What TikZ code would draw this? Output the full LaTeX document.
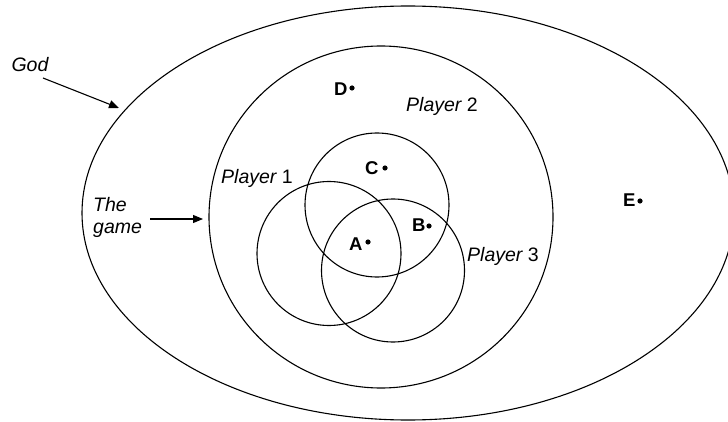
\documentclass[tikz,border=0pt]{standalone}
\usepackage{fontspec}
\setmainfont{Liberation Sans}
\usetikzlibrary{arrows.meta}
\begin{document}
\begin{tikzpicture}[x=1pt,y=1pt,
  ring/.style={draw=black,line width=1.1pt},
  lbl/.style={inner sep=0pt,font=\fontsize{19.5}{22}\selectfont\itshape},
  ltr/.style={inner sep=0pt,font=\fontsize{18.5}{21}\selectfont\bfseries,anchor=base west},
  dotn/.style={circle,fill=black,inner sep=0pt,minimum size=5.2pt},
  arr/.style={line width=1.1pt,-{Triangle[length=10pt,width=8pt]}}]
\useasboundingbox (0,0) rectangle (728,-422);
\clip (0,0) rectangle (728,-422);
% ellipses and circles
\draw[ring] (408,-213) ellipse [x radius=326, y radius=207];
\draw[ring] (381,-217) ellipse [x radius=172, y radius=171];
\draw[ring] (377,-205) circle [radius=72];
\draw[ring] (329,-253.5) circle [radius=72];
\draw[ring] (393,-270.5) circle [radius=71.5];
% labels
\node[lbl] (god) at (30,-65) {God};
\node[lbl,align=left,anchor=west] (game) at (93,-217) {The\\game};
\node[lbl,anchor=base west] (p1) at (221,-184) {Player {\upshape 1}};
\node[lbl,anchor=base west] (p2) at (406,-112) {Player {\upshape 2}};
\node[lbl,anchor=base west] (p3) at (467,-261) {Player {\upshape 3}};
% arrows
\coordinate (godtip) at (119,-108);
\coordinate (gametip) at (203,-219);
\draw[arr] (43,-78) -- (godtip);
\draw[arr] (150,-219) -- (gametip);
% points
\node[ltr] (lD) at (334,-96) {D};
\node[dotn] (dD) at (352,-88) {};
\node[ltr] (lC) at (365,-175) {C};
\node[dotn] (dC) at (385,-168) {};
\node[ltr] (lB) at (412,-232) {B};
\node[dotn] (dB) at (429,-226) {};
\node[ltr] (lA) at (349,-250) {A};
\node[dotn] (dA) at (368,-242) {};
\node[ltr] (lE) at (623,-207) {E};
\node[dotn] (dE) at (640,-201) {};
\end{tikzpicture}
\end{document}
